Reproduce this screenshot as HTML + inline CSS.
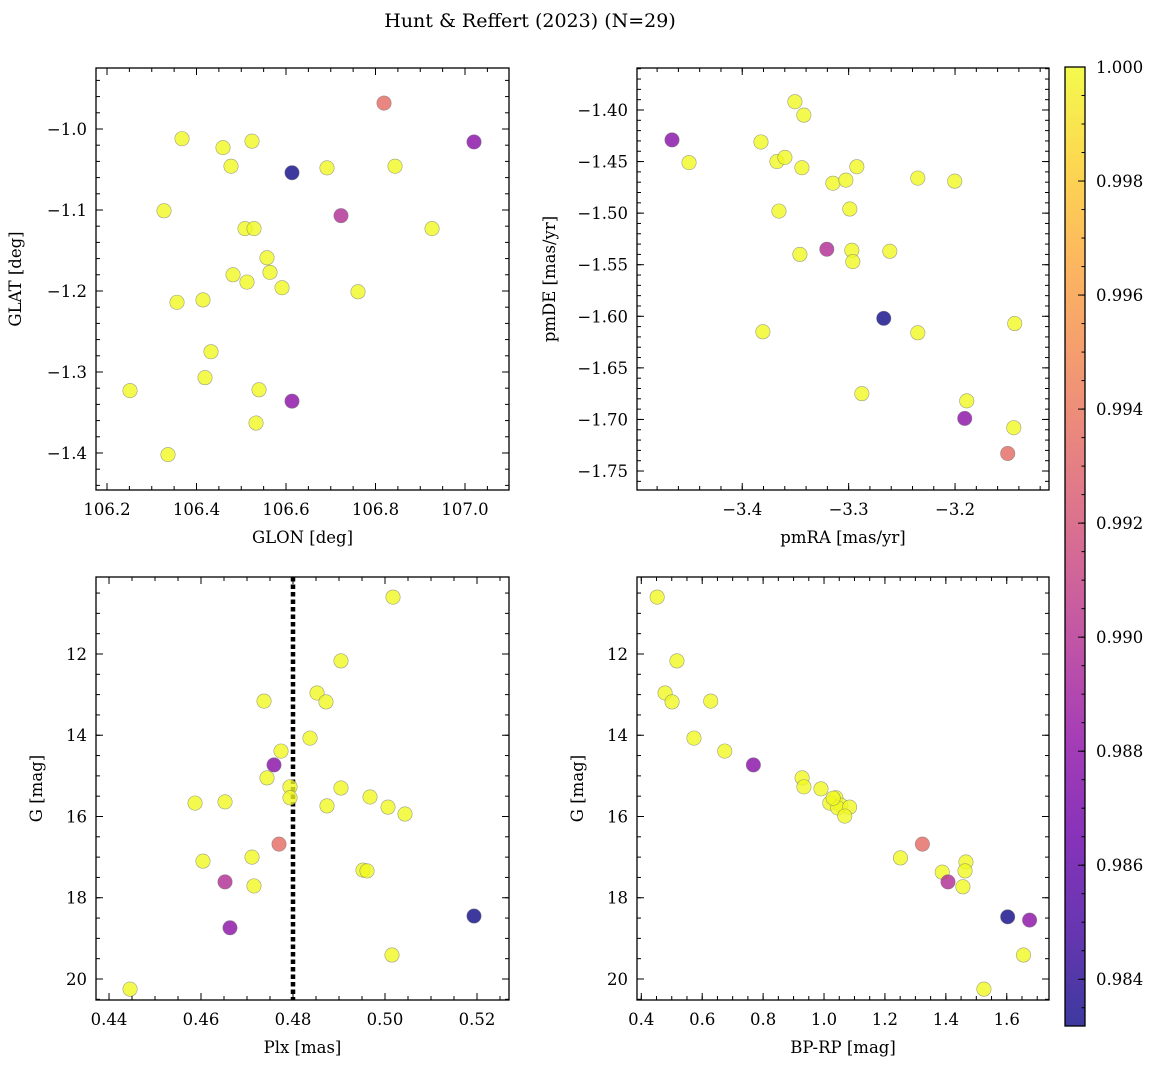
<!DOCTYPE html>
<html><head><meta charset="utf-8"><style>
body{margin:0;background:#fff}
svg{display:block;font-family:"DejaVu Serif","Liberation Serif",serif}
</style></head><body>
<svg id="fig" width="1161" height="1067" viewBox="0 0 1161 1067">
<defs><linearGradient id="plasma" x1="0" y1="1" x2="0" y2="0">
<stop offset="0" stop-color="#0d0887"/><stop offset="0.1" stop-color="#41049d"/><stop offset="0.2" stop-color="#6a00a8"/><stop offset="0.3" stop-color="#8f0da4"/><stop offset="0.4" stop-color="#b12a90"/><stop offset="0.5" stop-color="#cc4778"/><stop offset="0.6" stop-color="#e16462"/><stop offset="0.7" stop-color="#f2844b"/><stop offset="0.8" stop-color="#fca636"/><stop offset="0.9" stop-color="#fcce25"/><stop offset="1" stop-color="#f0f921"/>
</linearGradient></defs>
<text x="530" y="27" font-size="19" text-anchor="middle">Hunt &amp; Reffert (2023) (N=29)</text>
</svg>
<script>
// ---- data ----
const glon=[106.3676,106.4592,106.5240,106.4771,106.3274,106.6916,106.8436,106.9263,106.5084,106.5285,106.5575,106.5642,106.4816,106.5128,106.5911,106.7609,106.3564,106.4145,106.4324,106.2514,106.4190,106.5397,106.5330,106.3363,106.8190,107.0201,106.6134,106.7229,106.6134];
const glat=[-1.012,-1.023,-1.015,-1.046,-1.101,-1.048,-1.046,-1.123,-1.123,-1.123,-1.159,-1.177,-1.180,-1.189,-1.196,-1.201,-1.214,-1.211,-1.275,-1.323,-1.307,-1.322,-1.363,-1.402,-0.968,-1.016,-1.054,-1.107,-1.336];
const probTL=[1,1,1,1,1,1,1,1,1,1,1,1,1,1,1,1,1,1,1,1,1,1,1,1,0.9935,0.9878,0.9832,0.9898,0.9880];
const pmra=[-3.3505,-3.3421,-3.4500,-3.3824,-3.3674,-3.3599,-3.3439,-3.3148,-3.3026,-3.2923,-3.2350,-3.2003,-3.3655,-3.2989,-3.3458,-3.2970,-3.2961,-3.2613,-3.3806,-3.2350,-3.1439,-3.2876,-3.1890,-3.1448,-3.4660,-3.3205,-3.2670,-3.1909,-3.1505];
const pmde=[-1.392,-1.405,-1.451,-1.431,-1.450,-1.446,-1.456,-1.471,-1.468,-1.455,-1.466,-1.469,-1.498,-1.496,-1.540,-1.536,-1.547,-1.537,-1.615,-1.616,-1.607,-1.675,-1.682,-1.708,-1.429,-1.535,-1.602,-1.699,-1.733];
const probTR=[1,1,1,1,1,1,1,1,1,1,1,1,1,1,1,1,1,1,1,1,1,1,1,1,0.9878,0.9898,0.9832,0.9880,0.9935];
const plx=[0.50174,0.49043,0.48522,0.48717,0.47370,0.48370,0.47739,0.47935,0.47435,0.47935,0.45870,0.46522,0.49043,0.49674,0.48739,0.50065,0.50435,0.46043,0.47109,0.47152,0.49522,0.49609,0.50152,0.44457,0.47587,0.47696,0.46522,0.46630,0.51935];
const gmagBL=[10.60,12.17,12.96,13.18,13.16,14.07,14.39,15.27,15.05,15.54,15.67,15.64,15.30,15.52,15.74,15.77,15.94,17.10,17.00,17.71,17.32,17.34,19.41,20.25,14.73,16.68,17.61,18.74,18.45];
const probBL=[1,1,1,1,1,1,1,1,1,1,1,1,1,1,1,1,1,1,1,1,1,1,1,1,0.9878,0.9935,0.9898,0.9880,0.9832];
const bprp=[0.452,0.517,0.478,0.501,0.628,0.573,0.674,0.928,0.934,0.990,1.039,1.019,1.055,1.045,1.084,1.068,1.251,1.388,1.466,1.463,1.456,1.655,1.525,1.030,0.768,1.323,1.407,1.603,1.675];
const gmagBR=[10.60,12.17,12.96,13.18,13.16,14.07,14.39,15.05,15.27,15.32,15.54,15.67,15.72,15.79,15.77,15.99,17.02,17.37,17.12,17.34,17.73,19.41,20.25,15.55,14.73,16.68,17.61,18.47,18.55];
const probBR=[1,1,1,1,1,1,1,1,1,1,1,1,1,1,1,1,1,1,1,1,1,1,1,1,0.9878,0.9935,0.9898,0.9832,0.9880];
const cbTicks=[0.984,0.986,0.988,0.990,0.992,0.994,0.996,0.998,1.000];
const CMIN=0.98318, CMAX=1.0;

const NS="http://www.w3.org/2000/svg";
const svg=document.getElementById('fig');
function el(t,a,p){const e=document.createElementNS(NS,t);for(const k in a)e.setAttribute(k,a[k]);(p||svg).appendChild(e);return e;}
const stops=[[0,[13,8,135]],[.1,[65,4,157]],[.2,[106,0,168]],[.3,[143,13,164]],[.4,[177,42,144]],[.5,[204,71,120]],[.6,[225,100,98]],[.7,[242,132,75]],[.8,[252,166,54]],[.9,[252,206,37]],[1,[240,249,33]]];
function cmap(v){let t=Math.max(0,Math.min(1,(v-CMIN)/(CMAX-CMIN)));for(let i=1;i<stops.length;i++){if(t<=stops[i][0]){const a=stops[i-1],b=stops[i],f=(t-a[0])/(b[0]-a[0]);return 'rgb('+a[1].map((c,j)=>Math.round(c+(b[1][j]-c)*f)).join(',')+')';}}return 'rgb(240,249,33)';}
function fmt(v,d){let s=v.toFixed(d);return s.replace('-','\u2212');}

function panel(o){
  const g=el('g',{});
  
  
  const X=v=>o.L+(v-o.x0)/(o.x1-o.x0)*(o.R-o.L);
  const Y=o.yinv? v=>o.T+(v-o.y0)/(o.y1-o.y0)*(o.B-o.T) : v=>o.B-(v-o.y0)/(o.y1-o.y0)*(o.B-o.T);
  if(o.vline!==undefined){const l=el('line',{x1:X(o.vline),x2:X(o.vline),y1:o.T,y2:o.B,stroke:'#000','stroke-width':4.5,'stroke-dasharray':'4.5 3'},g);
    }
  for(let i=0;i<o.xs.length;i++){
    const c=el('circle',{cx:X(o.xs[i]),cy:Y(o.ys[i]),r:7.2,fill:cmap(o.pr[i]),'fill-opacity':0.8,stroke:'#777','stroke-width':0.6,'stroke-opacity':0.7},g);
    
    
  }
  el('rect',{x:o.L,y:o.T,width:o.R-o.L,height:o.B-o.T,fill:'none',stroke:'#000','stroke-width':1.3},g);
  const e=1e-9;
  for(let v=Math.ceil(o.x0/o.xm-e)*o.xm;v<=o.x1+e;v+=o.xm){const p=X(v);
    el('line',{x1:p,x2:p,y1:o.B,y2:o.B-4,stroke:'#000'},g);el('line',{x1:p,x2:p,y1:o.T,y2:o.T+4,stroke:'#000'},g);}
  for(let k=Math.ceil(o.x0/o.xM-e);k*o.xM<=o.x1+e;k++){const v=k*o.xM,p=X(v);
    el('line',{x1:p,x2:p,y1:o.B,y2:o.B-7,stroke:'#000'},g);el('line',{x1:p,x2:p,y1:o.T,y2:o.T+7,stroke:'#000'},g);
    const t=el('text',{x:p,y:o.B+25,'font-size':16.5,'text-anchor':'middle'},g);t.textContent=fmt(v,o.xd);
    }
  for(let v=Math.ceil(o.y0/o.ym-e)*o.ym;v<=o.y1+e;v+=o.ym){const p=Y(v);
    el('line',{x1:o.L,x2:o.L+4,y1:p,y2:p,stroke:'#000'},g);el('line',{x1:o.R,x2:o.R-4,y1:p,y2:p,stroke:'#000'},g);}
  for(let k=Math.ceil(o.y0/o.yM-e);k*o.yM<=o.y1+e;k++){const v=k*o.yM,p=Y(v);
    el('line',{x1:o.L,x2:o.L+7,y1:p,y2:p,stroke:'#000'},g);el('line',{x1:o.R,x2:o.R-7,y1:p,y2:p,stroke:'#000'},g);
    const t=el('text',{x:o.L-9,y:p+6,'font-size':16.5,'text-anchor':'end'},g);t.textContent=fmt(v,o.yd);
    }
  const xl=el('text',{x:(o.L+o.R)/2,y:o.B+53,'font-size':16.5,'text-anchor':'middle'},g);xl.textContent=o.xlab;
  
  const yx=o.L-o.ylo;const yl=el('text',{x:yx,y:(o.T+o.B)/2,'font-size':16.5,'text-anchor':'middle',transform:`rotate(-90 ${yx} ${(o.T+o.B)/2})`},g);yl.textContent=o.ylab;
  
}
panel({name:'glon-glat-panel',L:96,R:509,T:68,B:490,x0:106.1754,x1:107.0983,y0:-1.4457,y1:-0.9247,xM:0.2,xm:0.05,yM:0.1,ym:0.02,xd:1,yd:1,xs:glon,ys:glat,pr:probTL,xlab:'GLON [deg]',ylab:'GLAT [deg]',ylo:75});
panel({name:'pm-panel',L:637,R:1049,T:68,B:490,x0:-3.4989,x1:-3.1117,y0:-1.7684,y1:-1.3593,xM:0.1,xm:0.02,yM:0.05,ym:0.01,xd:1,yd:2,xs:pmra,ys:pmde,pr:probTR,xlab:'pmRA [mas/yr]',ylab:'pmDE [mas/yr]',ylo:82});
panel({name:'plx-g-panel',L:96,R:509,T:577,B:1000,x0:0.43717,x1:0.52696,y0:10.105,y1:20.517,yinv:true,xM:0.02,xm:0.005,yM:2,ym:0.5,xd:2,yd:0,xs:plx,ys:gmagBL,pr:probBL,xlab:'Plx [mas]',ylab:'G [mag]',ylo:54,vline:0.48});
panel({name:'cmd-panel',L:637,R:1049,T:577,B:1000,x0:0.3859,x1:1.7387,y0:10.105,y1:20.517,yinv:true,xM:0.2,xm:0.05,yM:2,ym:0.5,xd:1,yd:0,xs:bprp,ys:gmagBR,pr:probBR,xlab:'BP-RP [mag]',ylab:'G [mag]',ylo:54});
const cb=el('g',{});


const CT=67,CB=1026,CL=1065,CR=1085;
const CY=v=>CB-(v-CMIN)/(CMAX-CMIN)*(CB-CT);
el('rect',{x:CL,y:CT,width:CR-CL,height:CB-CT,fill:'url(#plasma)','fill-opacity':0.8},cb);
el('rect',{x:CL,y:CT,width:CR-CL,height:CB-CT,fill:'none',stroke:'#000','stroke-width':1.3},cb);
for(let v=0.9835;v<=1.00001;v+=0.0005){const p=CY(v);el('line',{x1:CR,x2:CR-3.5,y1:p,y2:p,stroke:'#000'},cb);}
cbTicks.forEach(v=>{const p=CY(v);el('line',{x1:CR,x2:CR-7,y1:p,y2:p,stroke:'#000'},cb);
  const t=el('text',{x:CR+11,y:p+6,'font-size':16.5},cb);t.textContent=v.toFixed(3);
  
  });
</script>
</body></html>
